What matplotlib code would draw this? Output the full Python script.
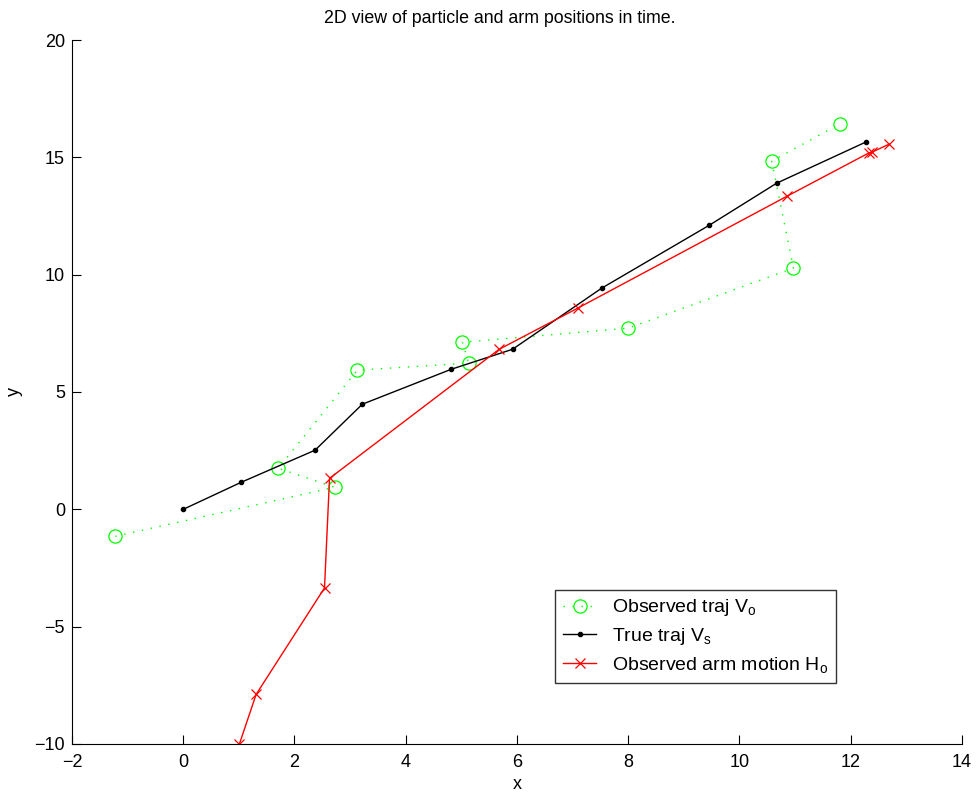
import matplotlib
matplotlib.use("Agg")
import matplotlib.pyplot as plt

plt.rcParams["font.family"] = ["Liberation Sans", "DejaVu Sans"]
plt.rcParams["mathtext.default"] = "regular"

# observed trajectory (green circles, dotted)
obs_x = [-1.22, 2.72, 1.71, 3.13, 5.13, 5.02, 8.00, 10.97, 10.58, 11.80]
obs_y = [-1.15, 0.94, 1.75, 5.93, 6.23, 7.12, 7.72, 10.28, 14.84, 16.42]

# true trajectory (black dots)
true_x = [0.0, 1.04, 2.37, 3.22, 4.82, 5.92, 7.52, 9.46, 10.67, 12.27]
true_y = [0.0, 1.15, 2.52, 4.48, 5.97, 6.82, 9.42, 12.11, 13.90, 15.65]

# observed arm motion (red crosses)
arm_x = [1.01, 1.31, 2.54, 2.63, 5.68, 7.09, 10.86, 12.32, 12.39, 12.68]
arm_y = [-10.0, -7.89, -3.35, 1.32, 6.82, 8.57, 13.35, 15.18, 15.23, 15.55]

fig = plt.figure(figsize=(9.78, 7.94), dpi=100)
ax = fig.add_axes([0.0736, 0.063, 0.91, 0.8866])

ax.plot(obs_x, obs_y, linestyle=(0, (1, 5.5)), color="#00ff00", marker="o",
        markersize=9.5, markerfacecolor="none", markeredgecolor="#00ff00",
        markeredgewidth=0.9, linewidth=1, label="Observed traj V$_o$")
ax.plot(true_x, true_y, "-", color="black", marker=".", markersize=6,
        linewidth=1, label="True traj V$_s$")
ax.plot(arm_x, arm_y, "-", color="red", marker="x", markersize=7,
        markeredgewidth=0.9, linewidth=1, label="Observed arm motion H$_o$")

ax.set_xlim(-2, 14)
ax.set_ylim(-10, 20)
ax.set_xticks(range(-2, 15, 2))
ax.set_yticks(range(-10, 21, 5))
ax.tick_params(direction="in", length=6.5, labelsize=13, width=0.8)
ax.tick_params(axis="x", pad=7)
ax.tick_params(axis="y", pad=5)
for side in ["top", "right"]:
    ax.spines[side].set_visible(False)

ax.set_xlabel("x", fontsize=13, labelpad=4)
ax.set_ylabel("y", fontsize=13, labelpad=8)
ax.set_title("2D view of particle and arm positions in time.", fontsize=12.8,
             x=0.481, pad=12)

leg = ax.legend(loc="lower left", bbox_to_anchor=(0.543, 0.087), fontsize=14,
                frameon=True, fancybox=False, edgecolor="black",
                handlelength=1.7, handletextpad=0.8, borderpad=0.4,
                labelspacing=0.4, borderaxespad=0)
leg.get_frame().set_linewidth(1)

fig.savefig("out.png", dpi=100)
